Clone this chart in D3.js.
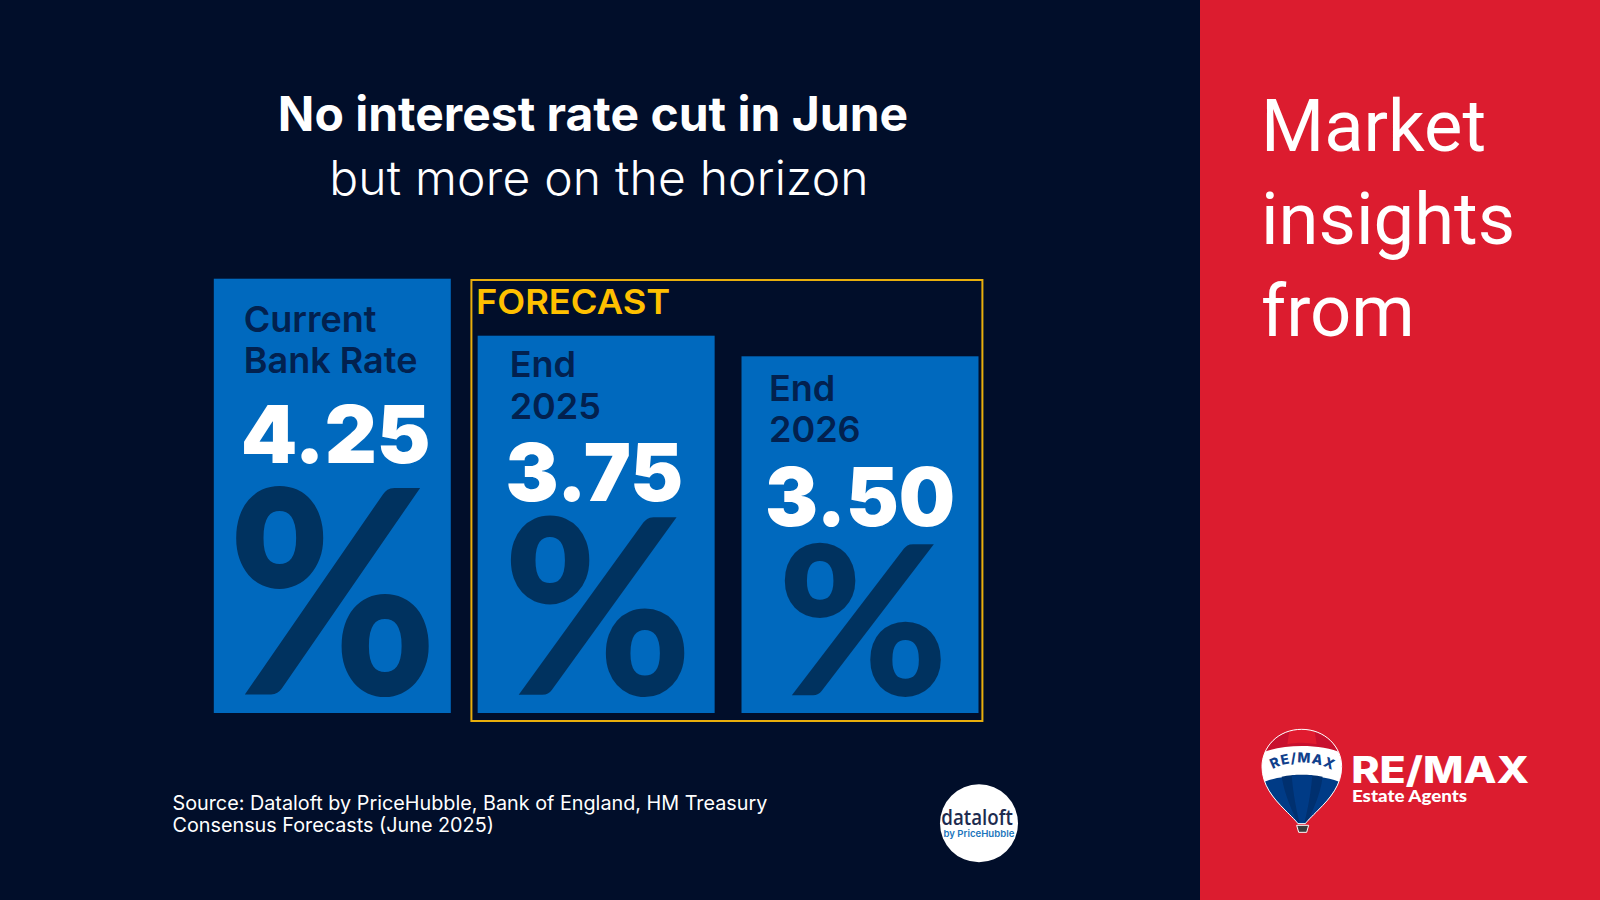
<!DOCTYPE html>
<html><head><meta charset="utf-8">
<script src="https://cdn.jsdelivr.net/npm/d3@7"></script>
<style>html,body{margin:0;padding:0;background:#010e2a;overflow:hidden}svg{display:block}</style>
</head><body><svg id="c" width="1600" height="900"></svg>
<script>
// ---- data ----
const categories = ["Current Bank Rate", "End 2025", "End 2026"];
const labelLines = [["Current", "Bank Rate"], ["End", "2025"], ["End", "2026"]];
const rates = [4.25, 3.75, 3.50];
const titleBold = "No interest rate cut in June";
const titleLight = "but more on the horizon";
const sidebarLines = ["Market", "insights", "from"];
const sourceLines = ["Source: Dataloft by PriceHubble, Bank of England, HM Treasury", "Consensus Forecasts (June 2025)"];

// ---- style and layout ----
const COL = {bg:"#010e2a", red:"#dc1c2f", bar:"#0069be", pct:"#00325f", label:"#02214f", gold:"#ffc000", frame:"#e8ae0c"};
const labelLayout = [{dx:30, y0:331.5}, {dx:32, y0:377.2}, {dx:27.5, y0:400.5}];
const numberBox = [{dx:30.1, w:184.6, top:404, h:60}, {dx:30.2, w:173.3, top:442, h:60}, {dx:25.8, w:185.3, top:465.4, h:61}];
const pctBox = [{dx:20.7, w:196.6, top:486.7}, {dx:31.7, w:177, top:517.3}, {dx:42, w:159.3, top:542.7}];
const pctBottom = 697.3;

const svg = d3.select("#c");
const ctx = document.createElement("canvas").getContext("2d");

// Places text so that its ink fills the given box exactly.
function fit(parent, str, family, weight, x0, y0, w, h, fill) {
  const size = 100;
  ctx.font = `${weight} ${size}px "${family}"`;
  const m = ctx.measureText(str);
  const inkW = m.actualBoundingBoxRight + m.actualBoundingBoxLeft;
  const inkH = m.actualBoundingBoxAscent + m.actualBoundingBoxDescent;
  const sx = w / inkW, sy = h / inkH;
  return parent.append("text")
    .attr("transform", `translate(${x0 + m.actualBoundingBoxLeft * sx},${y0 + m.actualBoundingBoxAscent * sy}) scale(${sx},${sy})`)
    .attr("font-family", family).attr("font-weight", weight).attr("font-size", size)
    .attr("fill", fill).text(str);
}

// backgrounds
svg.append("rect").attr("width", 1600).attr("height", 900).attr("fill", COL.bg);
svg.append("rect").attr("x", 1200).attr("width", 400).attr("height", 900).attr("fill", COL.red);

// title
svg.append("text").attr("x", 593).attr("y", 131).attr("text-anchor", "middle")
  .attr("font-family", "Inter").attr("font-weight", 700).attr("font-size", 48).attr("fill", "#fff").text(titleBold);
svg.append("text").attr("x", 599).attr("y", 195).attr("text-anchor", "middle")
  .attr("font-family", "Inter").attr("font-weight", 300).attr("font-size", 48).attr("letter-spacing", 0.2).attr("fill", "#fff").text(titleLight);

// scales
const x = d3.scaleBand().domain(categories).range([213.8, 978.5]).paddingInner(0.1018).paddingOuter(0);
const y = d3.scaleLinear().domain([0, 3.5, 3.75, 4.25]).range([713, 356.3, 335.7, 278.7]);

// forecast frame
svg.append("rect").attr("x", 471.4).attr("y", 280).attr("width", 511).attr("height", 441)
  .attr("fill", "none").attr("stroke", COL.frame).attr("stroke-width", 2);
fit(svg, "FORECAST", "Inter", 600, 478.5, 289, 190.4, 25.6, COL.gold);

// bars
const groups = svg.selectAll("g.bar").data(categories).join("g").attr("class", "bar");
groups.append("rect")
  .attr("x", d => x(d)).attr("width", x.bandwidth())
  .attr("y", (d, i) => y(rates[i])).attr("height", (d, i) => y(0) - y(rates[i]))
  .attr("fill", COL.bar);

groups.each(function (d, i) {
  const g = d3.select(this), bx = x(d);
  labelLines[i].forEach((t, k) => {
    g.append("text").attr("x", bx + labelLayout[i].dx).attr("y", labelLayout[i].y0 + k * 41.6)
      .attr("font-family", "Inter").attr("font-weight", 600).attr("font-size", 36)
      .attr("fill", COL.label).text(t);
  });
  const nb = numberBox[i];
  fit(g, d3.format(".2f")(rates[i]), "Inter", 900, bx + nb.dx, nb.top, nb.w, nb.h, "#fff");
  const pb = pctBox[i];
  fit(g, "%", "Lato", 900, bx + pb.dx, pb.top, pb.w, pctBottom - pb.top, COL.pct);
});

// source
sourceLines.forEach((t, k) => svg.append("text").attr("x", 172.5).attr("y", 810 + k * 21.5)
  .attr("font-family", "Inter").attr("font-weight", 400).attr("font-size", 19.8).attr("fill", "#fff").text(t));

// dataloft badge
svg.append("circle").attr("cx", 979).attr("cy", 823.3).attr("r", 39).attr("fill", "#fff");
fit(svg, "dataloft", "Open Sans", 600, 942.2, 808, 70.3, 17.2, "#1d2b4f");
fit(svg, "by PriceHubble", "Inter", 600, 944, 829.5, 70, 9.2, "#1b75bc");

// sidebar
sidebarLines.forEach((t, k) => svg.append("text").attr("x", 1261).attr("y", 151 + k * 92.7)
  .attr("font-family", "Roboto").attr("font-weight", 400).attr("font-size", 72.4).attr("fill", "#fff").text(t));

// RE/MAX balloon
const defs = svg.append("defs");
const outline = "M185 58C255 58 305 110 305 170C305 225 270 265 235 300C215 320 200 335 196 341L174 341C170 335 155 320 135 300C100 265 66 225 66 170C66 110 115 58 185 58Z";
defs.append("clipPath").attr("id", "bl").append("path").attr("d", outline);
const bal = svg.append("g").attr("transform", "translate(1240,710) scale(0.3333)");
const inner = bal.append("g").attr("clip-path", "url(#bl)");
inner.append("rect").attr("x", 60).attr("y", 50).attr("width", 250).attr("height", 300).attr("fill", "#fff");
inner.append("path").attr("d", "M60 50H310V132C250 100 120 100 60 132Z").attr("fill", "#c8102e");
inner.append("path").attr("d", "M150 50H222L230 103C200 97 170 97 142 103Z").attr("fill", "#e01b2f");
inner.append("path").attr("d", "M60 222C110 190 260 190 310 222V350H60Z").attr("fill", "#003b86");
inner.append("path").attr("d", "M125 200C135 260 160 310 176 345L196 345C215 310 240 260 248 200C205 192 165 192 125 200Z").attr("fill", "#00306f");
inner.append("path").attr("d", "M155 196C160 260 172 310 180 345L192 345C200 310 212 260 217 196Z").attr("fill", "#003b86");
bal.append("path").attr("d", outline).attr("fill", "none").attr("stroke", "#fff").attr("stroke-width", 3);
bal.append("path").attr("d", "M170 346H206L200 367H176Z").attr("fill", "#3c3c3c").attr("stroke", "#fff").attr("stroke-width", 3);
defs.append("path").attr("id", "arc").attr("d", "M98 178C140 150 232 150 282 184");
bal.append("text").attr("font-family", "Inter").attr("font-weight", 800).attr("font-size", 41).attr("fill", "#10408c")
  .attr("letter-spacing", 3).append("textPath").attr("href", "#arc").text("RE/MAX");

fit(svg, "RE/MAX", "Inter", 800, 1353.3, 755, 175, 32, "#fff");
fit(svg, "Estate Agents", "Lato", 900, 1353.3, 790.5, 114, 14.5, "#fff");
</script></body></html>
